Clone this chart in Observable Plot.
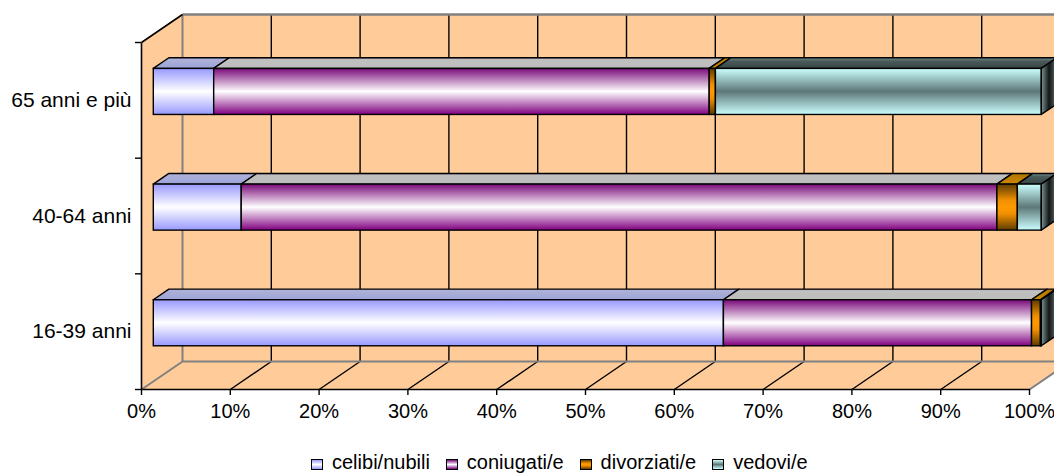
<!DOCTYPE html>
<html><head><meta charset="utf-8">
<script src="https://cdn.jsdelivr.net/npm/d3@7"></script>
<script src="https://cdn.jsdelivr.net/npm/@observablehq/plot@0.6"></script>
<style>
html,body{margin:0;padding:0;background:#fff;overflow:hidden;}
#wrap{position:relative;width:1054px;height:475px;overflow:hidden;font-family:"Liberation Sans",Arial,sans-serif;}
#legend{position:absolute;left:311px;top:452px;display:flex;align-items:center;font-size:20px;line-height:20px;color:#000;white-space:nowrap;}
.item{display:flex;align-items:center;margin-right:16px;}
.sw{width:10px;height:9px;border:1px solid #000;margin-right:9px;margin-top:4px;}
</style></head><body>
<svg width="0" height="0" style="position:absolute" id="defsHost"></svg>
<div id="wrap"><div id="legend"></div></div>
<script>
// ---- data ----
const categories = ["16-39 anni", "40-64 anni", "65 anni e più"]; // bottom -> top
const seriesNames = ["celibi/nubili", "coniugati/e", "divorziati/e", "vedovi/e"];
const celibi     = [64.2,  9.9,  6.8];
const coniugati  = [34.7, 85.1, 55.8];
const divorziati = [ 1.0,  2.3,  0.7];
const vedovi     = [ 0.1,  2.7, 36.7];
const xTicks = [0, 10, 20, 30, 40, 50, 60, 70, 80, 90, 100];

// ---- styles ----
const frontStops = [
  [[0,"#9999FF"],[0.5,"#FFFFFF"],[1,"#9999FF"]],
  [[0,"#7A0A7A"],[0.5,"#FFFFFF"],[1,"#800080"]],
  [[0,"#5C3B00"],[0.35,"#F09000"],[0.5,"#FF9900"],[0.65,"#F09000"],[1,"#5C3B00"]],
  [[0,"#CCFFFF"],[0.5,"#5E7878"],[1,"#CCFFFF"]]
];
const topStops = [
  [[0,"#B0B3D6"],[1,"#9DA3DA"]],
  [[0,"#9A7A9A"],[0.15,"#C0C0C0"],[1,"#BDBDBD"]],
  [[0,"#B07400"],[1,"#CC8800"]],
  [[0,"#7A9292"],[0.3,"#4A5A5A"],[1,"#384444"]]
];
const endStops = [[0,"#7A9696"],[0.5,"#141414"],[1,"#627676"]];

function grad(id, stops, horiz) {
  return `<linearGradient id="${id}" x1="0" y1="0" x2="${horiz?1:0}" y2="${horiz?0:1}">` +
    stops.map(([o,c]) => `<stop offset="${o}" stop-color="${c}"/>`).join("") + `</linearGradient>`;
}
let defs = "<defs>";
frontStops.forEach((s,k) => defs += grad("gf"+k, s, false));
topStops.forEach((s,k) => defs += grad("gt"+k, s, false));
defs += grad("ge", endStops, true);
defs += "</defs>";
document.getElementById("defsHost").innerHTML = defs;

// ---- geometry ----
const W = 1054, H = 445, ML = 141, MR = 25, MT = 42, MB = H - 389;
const DX = 41, DY = 28;          // full depth in px
const D0 = 0.3, D1 = 0.68;       // bar depth span
const BH = 0.199;                // bar half height (band units)
const ux = 100 / (W - ML - MR), uy = 3 / (H - MT - MB);
const X = (v, d) => v + d * DX * ux;
const Y = (v, d) => v + d * DY * uy;

const seriesVals = [celibi, coniugati, divorziati, vedovi];
const segs = [];
categories.forEach((c, i) => {
  let acc = 0;
  seriesVals.forEach((arr, k) => {
    segs.push({id: i + "-" + k, i, k, a: acc, b: acc + arr[i]});
    acc += arr[i];
  });
});
const totals = categories.map((c, i) => d3.sum(seriesVals, a => a[i]));

const topPts = segs.flatMap(s => [
  {id: s.id, fill: `url(#gt${s.k})`, y: Y(s.i + 0.5 + BH, D0), x1: X(s.a, D0), x2: X(s.b, D0)},
  {id: s.id, fill: `url(#gt${s.k})`, y: Y(s.i + 0.5 + BH, D1), x1: X(s.a, D1), x2: X(s.b, D1)}
]);
const endPts = categories.flatMap((c, i) => [
  {id: i, x: X(totals[i], D0), y1: Y(i + 0.5 - BH, D0), y2: Y(i + 0.5 + BH, D0)},
  {id: i, x: X(totals[i], D1), y1: Y(i + 0.5 - BH, D1), y2: Y(i + 0.5 + BH, D1)}
]);

const peach = "#FFCC99", gray = "#808080";
const inner = xTicks.slice(1, -1);

const chart = Plot.plot({
  width: W, height: H,
  marginLeft: ML, marginRight: MR, marginTop: MT, marginBottom: MB,
  x: {domain: [0, 100]},
  y: {domain: [0, 3]},
  color: {type: "identity"},
  style: {fontFamily: "'Liberation Sans', Arial, sans-serif", fontSize: "20px", color: "black", background: "white", overflow: "hidden"},
  marks: [
    // walls
    Plot.rect([0], {x1: () => X(0, 1), x2: () => X(100, 1), y1: () => Y(0, 1), y2: () => Y(3, 1), fill: peach}),
    Plot.areaY([{x: 0, y1: 0, y2: 3}, {x: X(0, 1), y1: Y(0, 1), y2: Y(3, 1)}], {x: "x", y1: "y1", y2: "y2", fill: peach}),
    Plot.areaX([{y: 0, x1: 0, x2: 100}, {y: Y(0, 1), x1: X(0, 1), x2: X(100, 1)}], {y: "y", x1: "x1", x2: "x2", fill: peach}),
    // grid on back wall
    Plot.link(inner, {x1: v => X(v, 1), x2: v => X(v, 1), y1: () => Y(0, 1), y2: () => Y(3, 1), stroke: "black", strokeWidth: 1.4}),
    // grid on floor
    Plot.link(inner, {x1: v => v, y1: () => 0, x2: v => X(v, 1), y2: () => Y(0, 1), stroke: "black", strokeWidth: 1.4}),
    // gray wall edges
    Plot.link([0, 100], {x1: v => v, y1: () => 0, x2: v => X(v, 1), y2: () => Y(0, 1), stroke: gray, strokeWidth: 2}),
    Plot.link([0], {x1: () => X(0, 1), x2: () => X(100, 1), y1: () => Y(0, 1), y2: () => Y(0, 1), stroke: gray, strokeWidth: 2}),
    Plot.link([0], {x1: () => X(0, 1), x2: () => X(100, 1), y1: () => Y(3, 1), y2: () => Y(3, 1), stroke: gray, strokeWidth: 2.5}),
    Plot.link([0], {x1: () => X(0, 1), x2: () => X(0, 1), y1: () => Y(0, 1), y2: () => Y(3, 1), stroke: gray, strokeWidth: 2}),
    // left wall top edge
    Plot.link([0], {x1: () => 0, y1: () => 3, x2: () => X(0, 1), y2: () => Y(3, 1), stroke: "black", strokeWidth: 1.6}),
    // axis lines
    Plot.link([0], {x1: () => 0, x2: () => 100, y1: () => 0, y2: () => 0, stroke: "black", strokeWidth: 1.6}),
    Plot.link([0], {x1: () => 0, x2: () => 0, y1: () => 0, y2: () => 3, stroke: "black", strokeWidth: 1.6}),
    // bars: top faces
    Plot.areaX(topPts, {y: "y", x1: "x1", x2: "x2", z: "id", fill: "fill", stroke: "black", strokeWidth: 1.4, strokeLinejoin: "round"}),
    // bars: front faces
    Plot.rect(segs, {
      x1: s => X(s.a, D0), x2: s => X(s.b, D0),
      y1: s => Y(s.i + 0.5 - BH, D0), y2: s => Y(s.i + 0.5 + BH, D0),
      fill: s => `url(#gf${s.k})`, stroke: "black", strokeWidth: 1.4
    }),
    // bars: end caps
    Plot.areaY(endPts, {x: "x", y1: "y1", y2: "y2", z: "id", fill: () => "url(#ge)", stroke: "black", strokeWidth: 1.4, strokeLinejoin: "round"}),
    // axes
    Plot.axisX({ticks: xTicks, tickFormat: d => d + "%", tickSize: 6, tickPadding: 8, fontSize: 20, label: null, stroke: "black", strokeWidth: 1.4}),
    Plot.axisY({ticks: [0, 1, 2, 3], tickFormat: () => "", tickSize: 6, label: null, stroke: "black", strokeWidth: 1.4}),
    Plot.axisY({ticks: [0.5, 1.5, 2.5], tickFormat: v => categories[Math.floor(v)], tickSize: 0, tickPadding: 10, fontSize: 21, label: null})
  ]
});
const wrap = document.getElementById("wrap");
wrap.insertBefore(chart, wrap.firstChild);

// ---- legend ----
const legend = document.getElementById("legend");
seriesNames.forEach((name, k) => {
  const it = document.createElement("div");
  it.className = "item";
  const sw = document.createElement("span");
  sw.className = "sw";
  sw.style.background = "linear-gradient(to bottom," + frontStops[k].map(([o, c]) => `${c} ${o * 100}%`).join(",") + ")";
  const tx = document.createElement("span");
  tx.textContent = name;
  it.appendChild(sw); it.appendChild(tx);
  legend.appendChild(it);
});
</script>
</body></html>
